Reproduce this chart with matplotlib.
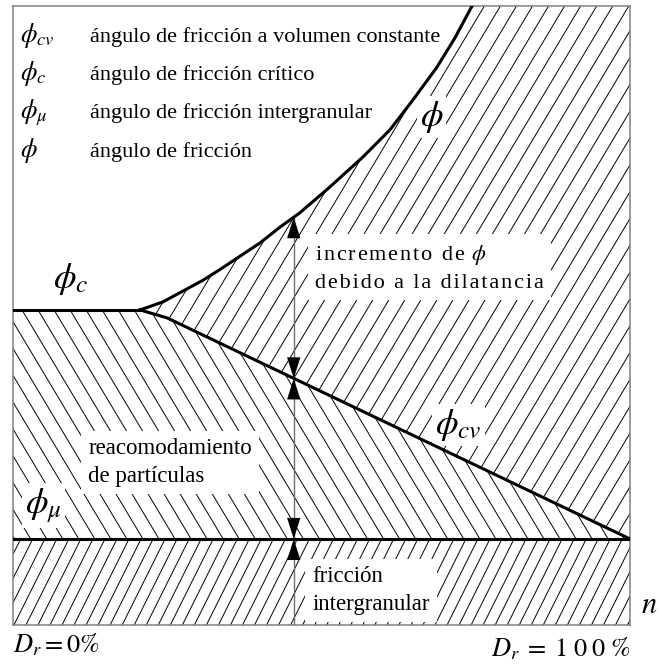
import numpy as np
import matplotlib.pyplot as plt
from matplotlib.patches import Polygon
from matplotlib.collections import LineCollection

plt.rcParams['font.family'] = ['Liberation Serif', 'DejaVu Serif']
plt.rcParams['mathtext.fontset'] = 'stix'

# eje horizontal: n normalizado (Dr 0% -> 100%), eje vertical: angulo normalizado
phi_n = np.array([0.206, 0.243, 0.308, 0.335, 0.400, 0.433, 0.465, 0.514,
                  0.567, 0.611, 0.648, 0.687, 0.716, 0.744])
phi_val = np.array([0.509, 0.522, 0.557, 0.574, 0.617, 0.643, 0.666, 0.708,
                    0.756, 0.800, 0.848, 0.901, 0.948, 1.0])
cv_n = np.array([0.206, 0.250, 1.0])
cv_val = np.array([0.509, 0.496, 0.139])
phi_c = 0.509
phi_mu = 0.139
n_arrow = 0.455

leyenda_sim = [r'$\phi_{cv}$', r'$\phi_{c}$', r'$\phi_{\mu}$', r'$\phi$']
leyenda_txt = ['ángulo de fricción a volumen constante',
               'ángulo de fricción crítico',
               'ángulo de fricción intergranular',
               'ángulo de fricción']


def espaciar(s):
    # separa un poco las letras con espacios finos
    return '\u200a'.join(s)


fig = plt.figure(figsize=(6.62, 6.64), dpi=100)
ax = fig.add_axes([13/662, 1-625/664, 617/662, 619/664])
ax.set_xlim(0, 1)
ax.set_ylim(0, 1)
ax.set_xticks([])
ax.set_yticks([])
for s in ax.spines.values():
    s.set_color('#808080')
    s.set_linewidth(1.1)


def rayado(verts, pend, paso):
    # lineas paralelas recortadas al poligono
    poly = Polygon(verts, closed=True, fc='none', ec='none')
    ax.add_patch(poly)
    x0 = np.arange(-1.5, 2.5, paso)
    segs = [[(x, 0), (x + pend, 1)] for x in x0]
    lc = LineCollection(segs, colors='k', linewidths=0.7, zorder=1)
    ax.add_collection(lc)
    lc.set_clip_path(poly)


# zona de dilatancia (entre phi y phi_cv)
zona_a = list(zip(phi_n, phi_val)) + [(1, 1), (1, phi_mu)] + list(zip(cv_n[::-1], cv_val[::-1]))
rayado(zona_a, 0.6, 0.026)
# zona de reacomodamiento (entre phi_cv y phi_mu)
zona_b = [(0, phi_c)] + list(zip(cv_n, cv_val)) + [(0, phi_mu)]
rayado(zona_b, -0.6, 0.026)
# friccion intergranular
zona_c = [(0, 0), (1, 0), (1, phi_mu), (0, phi_mu)]
rayado(zona_c, 0.5, 0.0195)

# curvas
ax.plot(phi_n, phi_val, color='k', lw=2.2, zorder=5, solid_joinstyle='round')
ax.plot(cv_n, cv_val, color='k', lw=2.2, zorder=5)
ax.plot([0, cv_n[0]], [phi_c, phi_c], color='k', lw=2.2, zorder=5)
ax.plot([0, 1], [phi_mu, phi_mu], color='k', lw=2.2, zorder=5)

# linea vertical y flechas
y_phi = np.interp(n_arrow, phi_n, phi_val)
y_cv = np.interp(n_arrow, cv_n, cv_val)
ax.plot([n_arrow, n_arrow], [0, y_phi], color='#707070', lw=1.0, zorder=4)
L, W = 0.034, 0.0108
for tip, sgn in [(y_phi, 1), (y_cv, -1), (y_cv, 1), (phi_mu, -1), (phi_mu, 1)]:
    ax.fill([n_arrow, n_arrow - W, n_arrow + W], [tip, tip - sgn*L, tip - sgn*L],
            color='k', zorder=6, lw=0)

# leyenda
ybase = [0.942, 0.880, 0.819, 0.756]
for sim, txt, yb in zip(leyenda_sim, leyenda_txt, ybase):
    ax.text(0.011, yb, sim, fontsize=19, va='baseline', ha='left')
    ax.text(0.125, yb, txt, fontsize=16, va='baseline', ha='left')

caja = dict(fc='white', ec='none', pad=2)
ax.text(0.678, 0.821, r'$\phi$', fontsize=26, ha='center', va='center', zorder=3, bbox=caja)
ax.text(0.065, 0.559, r'$\phi_c$', fontsize=26, ha='left', va='center', zorder=3, bbox=caja)
ax.text(0.020, 0.193, r'$\phi_\mu$', fontsize=26, ha='left', va='center', zorder=3, bbox=caja)
ax.text(0.684, 0.323, r'$\phi_{cv}$', fontsize=26, ha='left', va='center', zorder=3, bbox=caja)

caja2 = dict(fc='white', ec='none', pad=5)
ax.text(0.490, 0.544, espaciar('incremento de ') + r'$\phi$' + '\n' + espaciar('debido a la dilatancia'),
        fontsize=16, ha='left', va='baseline', linespacing=1.5, zorder=3, bbox=caja2)
ax.text(0.122, 0.231, 'reacomodamiento\nde partículas', fontsize=16.5,
        ha='left', va='baseline', linespacing=1.45, zorder=3, bbox=caja2)
ax.text(0.485, 0.024, 'fricción\nintergranular', fontsize=16.5,
        ha='left', va='baseline', linespacing=1.45, zorder=3, bbox=caja2)

ax.text(1.018, 0.019, r'$n$', fontsize=22, ha='left', va='baseline', clip_on=False)
ax.text(0.0, -0.045, r'$D_r = 0\%$', fontsize=19, ha='left', va='baseline', clip_on=False)
ax.text(1.0, -0.050, r'$D_r\;=\;1\;0\;0\;\%$', fontsize=19, ha='right', va='baseline', clip_on=False)

fig.savefig('out.png', dpi=100)
